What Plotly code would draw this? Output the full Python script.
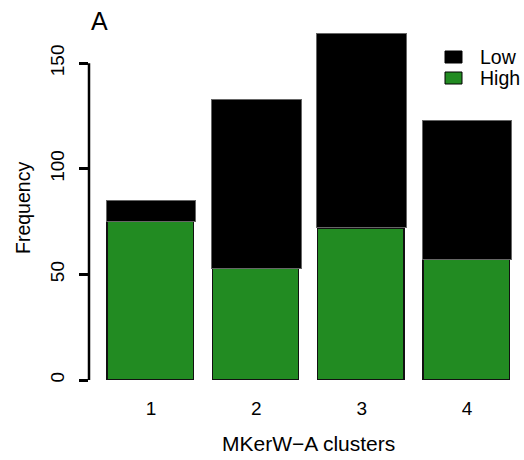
import plotly.graph_objects as go

clusters = [1, 2, 3, 4]
tick_labels = ["1", "2", "3", "4"]
high = [75, 53, 72, 57]
low = [10, 80, 92, 66]
y_ticks = [0, 50, 100, 150]

FONT = "Liberation Sans, Arial, sans-serif"
GREEN = "#228B22"

L, R, T, B = 89, 4, 21, 80
W, H = 524, 460
pw = W - L - R
ph = H - T - B

def px(x):
    return (x - L) / pw

def py(y):
    return (H - B - y) / ph

fig = go.Figure()
fig.add_trace(go.Bar(x=clusters, y=high, name="High", width=0.82, offset=-0.418,
                     marker=dict(color=GREEN, line=dict(color="#111111", width=1.5))))
fig.add_trace(go.Bar(x=clusters, y=low, name="Low", width=0.85, offset=-0.425,
                     marker=dict(color="black", line=dict(color="#666666", width=1))))

fig.update_layout(
    width=W, height=H, barmode="stack", showlegend=False,
    margin=dict(l=L, r=R, t=T, b=B),
    paper_bgcolor="white", plot_bgcolor="white",
    font=dict(family=FONT, size=18, color="black"),
    xaxis=dict(range=[0.411, 4.503], tickvals=clusters, ticktext=tick_labels,
               showline=False, showgrid=False, zeroline=False, ticks="",
               ticklabelstandoff=15, tickfont=dict(size=19)),
    yaxis=dict(range=[0, 170], tickvals=y_ticks, showline=False, showgrid=False,
               zeroline=False, ticks="outside", ticklen=9, tickwidth=2.5,
               tickcolor="black", tickangle=-90, ticklabelstandoff=7,
               tickfont=dict(size=19)),
)

# y axis line only spanning 0..150 (R style)
fig.add_shape(type="line", xref="paper", yref="y", x0=0, x1=0, y0=0, y1=150,
              line=dict(color="black", width=2.5))

fig.add_annotation(text="MKerW\u2212A clusters", xref="paper", yref="paper",
                   x=px(308), y=py(443), showarrow=False, font=dict(size=21),
                   xanchor="center", yanchor="middle")
fig.add_annotation(text="Frequency", xref="paper", yref="paper",
                   x=px(23), y=py(208), showarrow=False, font=dict(size=19.5),
                   textangle=-90, xanchor="center", yanchor="middle")
fig.add_annotation(text="A", xref="paper", yref="paper",
                   x=px(89), y=py(21), showarrow=False, font=dict(size=25),
                   xanchor="left", yanchor="middle")

# legend
legend_items = [("Low", "black", 57), ("High", GREEN, 78)]
for label, col, yc in legend_items:
    fig.add_shape(type="rect", xref="paper", yref="paper",
                  x0=px(445), x1=px(462), y0=py(yc - 6), y1=py(yc + 6),
                  fillcolor=col, line=dict(color="black", width=1))
    fig.add_annotation(text=label, xref="paper", yref="paper",
                       x=px(478), y=py(yc), showarrow=False, font=dict(size=19.5),
                       xanchor="left", yanchor="middle")

fig.write_html("out.html", config={"displayModeBar": False},
               post_script="document.body.style.margin='0';")
